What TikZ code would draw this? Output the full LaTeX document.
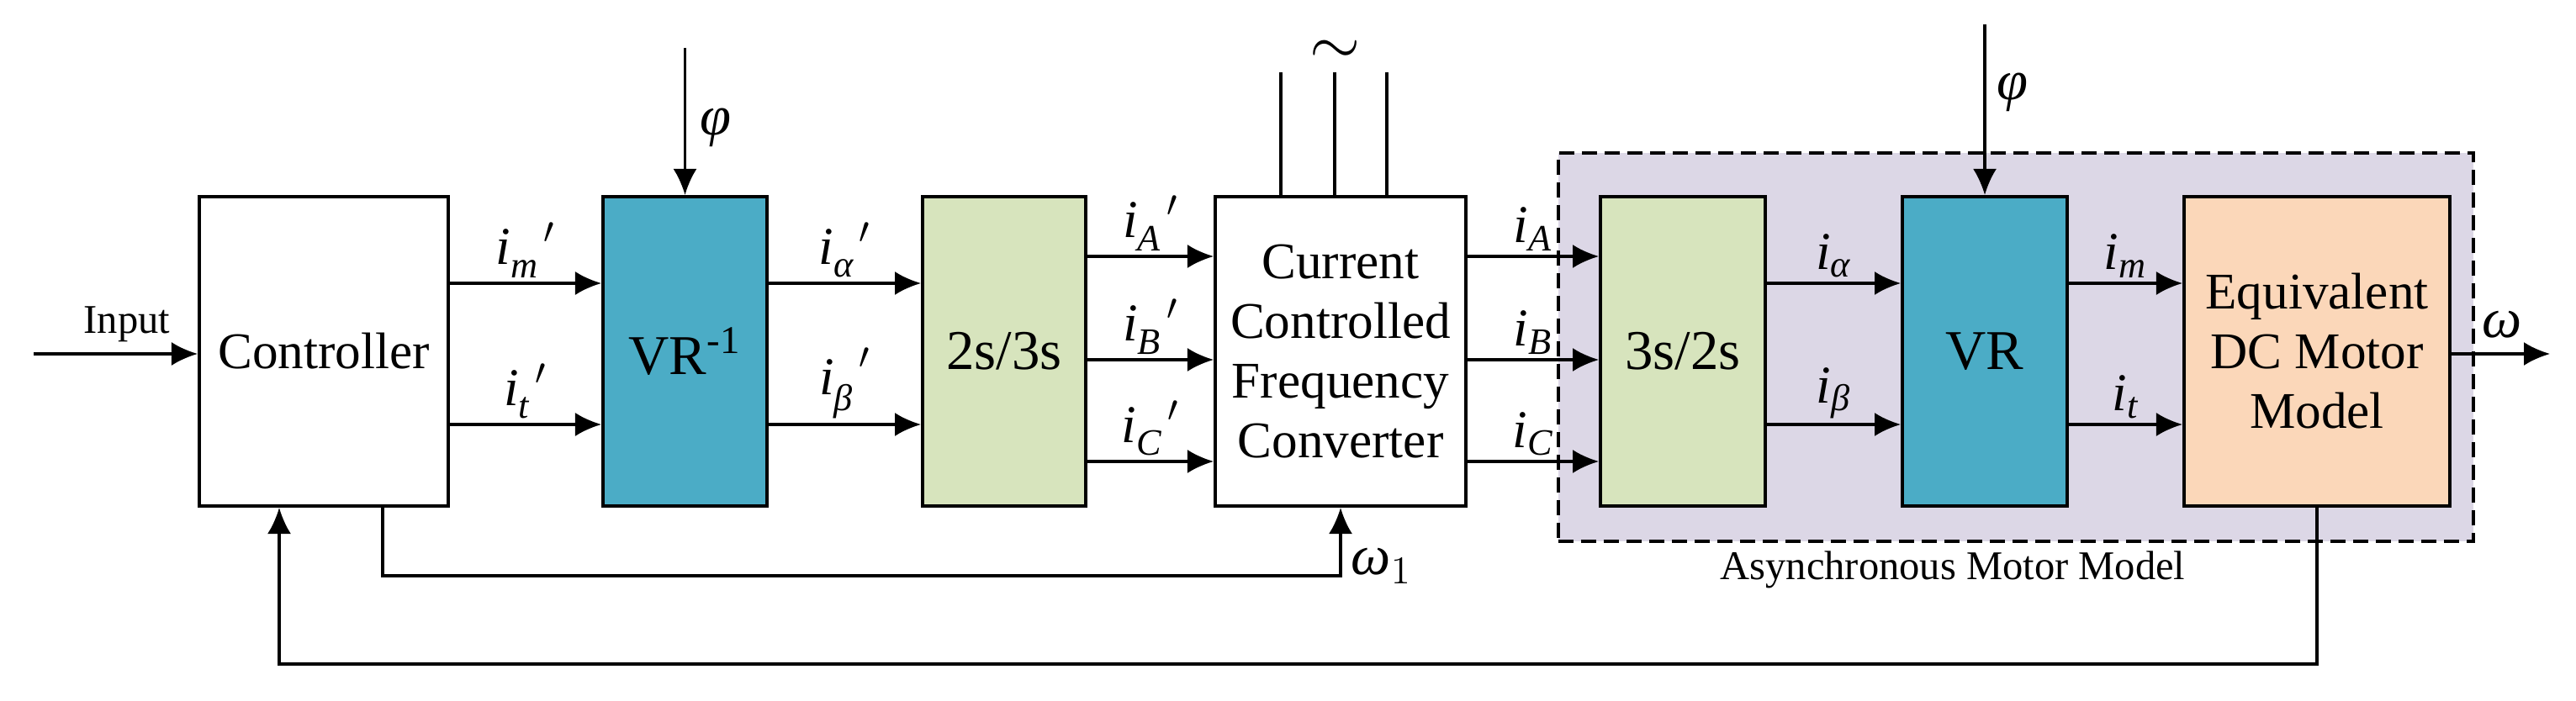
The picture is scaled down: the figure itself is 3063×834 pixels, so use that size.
\RequirePackage{fix-cm}
\documentclass[tikz,border=0pt]{standalone}
\usepackage{amsmath}
\usepackage{fontspec}
\setmainfont{Liberation Serif}
\usetikzlibrary{arrows.meta}
\definecolor{vrteal}{HTML}{4BACC6}
\definecolor{convgreen}{HTML}{D7E4BD}
\definecolor{dcpeach}{HTML}{FBD7B9}
\definecolor{ammlav}{HTML}{DCD7E6}
\newcommand{\cur}[1]{$\textit{i}_{\textit{#1}}$}
\newcommand{\curp}[1]{$\textit{i}_{\textit{#1}}^{\phantom{\textit{#1}}\,\prime}$}
\begin{document}
\begin{tikzpicture}[x=0.01cm,y=-0.01cm,
  blk/.style={draw, line width=1.1pt, minimum height=3.68cm, inner sep=0pt, align=center,
    font=\fontsize{17.4}{20.2}\selectfont},
  bigtxt/.style={font=\fontsize{19}{22}\selectfont},
  dashbox/.style={draw, fill=ammlav, line width=1.1pt, dash pattern=on 0.18cm off 0.09cm,
    minimum width=10.88cm, minimum height=4.62cm, inner sep=0pt},
  arr/.style={line width=0.9pt, -{Latex[length=3.1mm,width=2.8mm]}},
  wire/.style={line width=0.9pt},
  lab/.style={font=\fontsize{18}{20}\selectfont, inner sep=1.5pt},
  glab/.style={font=\fontsize{19}{21}\selectfont, inner sep=0pt},
  smalltxt/.style={font=\fontsize{13.8}{16}\selectfont, inner sep=0pt}
]
\fill[white] (0,0) rectangle (3063,834);
\useasboundingbox (0,0) rectangle (3063,834);

% row heights
\coordinate (ra) at (0,337);
\coordinate (rb) at (0,505);
\coordinate (ta) at (0,305);
\coordinate (tb) at (0,428);
\coordinate (tc) at (0,549);

% asynchronous motor model frame
\node[dashbox] (amm) at (2397,413) {};
\node[smalltxt, anchor=base] (ammlab) at (2322,690) {Asynchronous Motor Model};

% blocks
\node[blk, minimum width=2.96cm] (ctrl) at (385,418) {Controller};
\node[blk, bigtxt, fill=vrteal, minimum width=1.95cm] (vri) at (814.5,418) {VR\textsuperscript{-1}};
\node[blk, bigtxt, fill=convgreen, minimum width=1.94cm] (tt) at (1194,418) {2s/3s};
\node[blk, minimum width=2.98cm] (ccfc) at (1594,418) {Current\\Controlled\\Frequency\\Converter};
\node[blk, bigtxt, fill=convgreen, minimum width=1.96cm] (st) at (2001,418) {3s/2s};
\node[blk, bigtxt, fill=vrteal, minimum width=1.96cm] (vr) at (2360,418) {VR};
\node[blk, fill=dcpeach, minimum width=3.16cm] (dc) at (2755,418) {Equivalent\\DC Motor\\Model};

% input
\coordinate (inp) at (40,421);
\draw[arr] (inp) -- (ctrl.west |- inp);
\node[smalltxt, anchor=base] (inlab) at (151,397) {Input};

% controller -> VR^-1
\draw[arr] (ctrl.east |- ra) -- (vri.west |- ra) node[lab, midway, above] {\curp{m}};
\draw[arr] (ctrl.east |- rb) -- (vri.west |- rb) node[lab, midway, above] {\curp{t}};
% VR^-1 -> 2s/3s
\draw[arr] (vri.east |- ra) -- (tt.west |- ra) node[lab, midway, above] {\curp{α}};
\draw[arr] (vri.east |- rb) -- (tt.west |- rb) node[lab, midway, above] {\curp{β}};
% 2s/3s -> CCFC
\draw[arr] (tt.east |- ta) -- (ccfc.west |- ta) node[lab, midway, above] {\curp{A}};
\draw[arr] (tt.east |- tb) -- (ccfc.west |- tb) node[lab, midway, above] {\curp{B}};
\draw[arr] (tt.east |- tc) -- (ccfc.west |- tc) node[lab, midway, above] {\curp{C}};
% CCFC -> 3s/2s
\draw[arr] (ccfc.east |- ta) -- (st.west |- ta) node[lab, midway, above] {\cur{A}};
\draw[arr] (ccfc.east |- tb) -- (st.west |- tb) node[lab, midway, above] {\cur{B}};
\draw[arr] (ccfc.east |- tc) -- (st.west |- tc) node[lab, midway, above] {\cur{C}};
% 3s/2s -> VR
\draw[arr] (st.east |- ra) -- (vr.west |- ra) node[lab, midway, above] {\cur{α}};
\draw[arr] (st.east |- rb) -- (vr.west |- rb) node[lab, midway, above] {\cur{β}};
% VR -> DC
\draw[arr] (vr.east |- ra) -- (dc.west |- ra) node[lab, midway, above] {\cur{m}};
\draw[arr] (vr.east |- rb) -- (dc.west |- rb) node[lab, midway, above] {\cur{t}};

% output omega
\coordinate (wout) at (3032,421);
\draw[arr] (dc.east |- wout) -- (wout);
\node[glab] (wlab) at (2975,386) {\textit{ω}};

% phi inputs
\coordinate (phia) at (814.5,57);
\draw[arr] (phia) -- (vri.north);
\node[glab] (phialab) at (851,152) {\textit{φ}};
\coordinate (phib) at (2360,29);
\draw[arr] (phib) -- (vr.north);
\node[glab] (phiblab) at (2393,110) {\textit{φ}};

% supply lines on the converter
\coordinate (sa) at (1523,86);
\coordinate (sb) at (1587,86);
\coordinate (sc) at (1649,86);
\draw[wire] (ccfc.north -| sa) -- (sa);
\draw[wire] (ccfc.north -| sb) -- (sb);
\draw[wire] (ccfc.north -| sc) -- (sc);
\node[font=\fontsize{22}{22}\selectfont, inner sep=0pt] (tilde) at (1588,62) {$\sim$};

% controller -> converter (omega_1)
\coordinate (wa) at (455,685);
\draw[arr] (ctrl.south -| wa) |- (ccfc.south |- wa) -- (ccfc.south);
\node[glab, anchor=base west] (w1lab) at (1606,684) {$\textit{ω}_{1}$};

% feedback
\coordinate (fb) at (332,790);
\draw[arr] (dc.south) |- (fb) -- (fb |- ctrl.south);
\end{tikzpicture}
\end{document}
